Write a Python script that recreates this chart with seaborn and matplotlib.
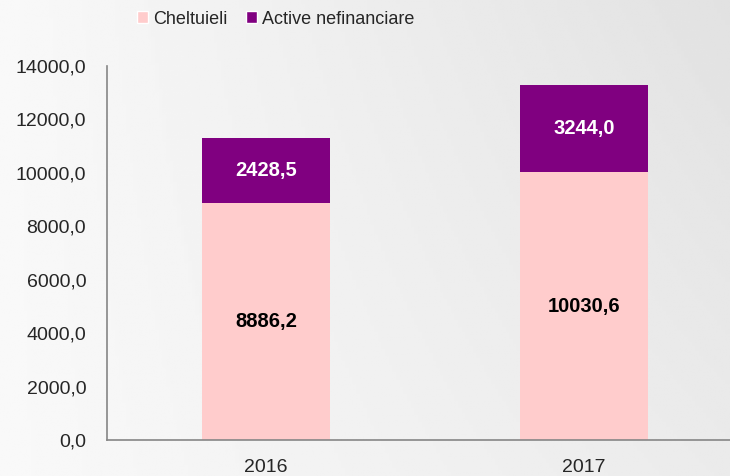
import numpy as np
import matplotlib
matplotlib.use("Agg")
import matplotlib.pyplot as plt
import seaborn as sns
import pandas as pd
from matplotlib.patches import Patch
from matplotlib.ticker import FixedLocator, FuncFormatter

# Data
years = ["2016", "2017"]
cheltuieli = [8886.2, 10030.6]
active_nefinanciare = [2428.5, 3244.0]

PINK = "#FFCCCC"
PURPLE = "#800080"
AXIS_GRAY = "#868686"


def fmt(v):
    return f"{v:.1f}".replace(".", ",")


def main():
    sns.set_style("white")
    plt.rcParams["font.family"] = ["Liberation Sans", "DejaVu Sans"]

    df = pd.DataFrame({
        "year": years,
        "cheltuieli": cheltuieli,
        "active": active_nefinanciare,
    })
    df["total"] = df["cheltuieli"] + df["active"]

    fig = plt.figure(figsize=(7.3, 4.76), dpi=100)

    # light gray gradient background
    bg = fig.add_axes([0, 0, 1, 1], zorder=0)
    gx = np.linspace(0, 1, 200)
    gy = np.linspace(0, 1, 200)
    GX, GY = np.meshgrid(gx, gy)
    shade = 0.975 - 0.09 * GX * (0.6 + 0.4 * (1 - GY))
    bg.imshow(shade, cmap="gray", vmin=0, vmax=1, aspect="auto", extent=[0, 1, 0, 1])
    bg.axis("off")

    ax = fig.add_axes([107 / 730, 36 / 476, 636 / 730, 374 / 476], zorder=1)
    ax.patch.set_alpha(0)

    # stacked bars: total first (purple), expenses drawn over it (pink)
    sns.barplot(data=df, x="year", y="total", color=PURPLE, width=0.4,
                saturation=1, ax=ax, linewidth=0)
    sns.barplot(data=df, x="year", y="cheltuieli", color=PINK, width=0.4,
                saturation=1, ax=ax, linewidth=0)

    for i, row in df.iterrows():
        ax.text(i, row["cheltuieli"] / 2, fmt(row["cheltuieli"]), ha="center",
                va="center", fontsize=14.5, fontweight="bold", color="black")
        ax.text(i, row["cheltuieli"] + row["active"] / 2, fmt(row["active"]),
                ha="center", va="center", fontsize=14.5, fontweight="bold",
                color="white")

    ax.set_xlim(-0.5, 1.5)
    ax.set_ylim(0, 14000)
    ax.set_xlabel("")
    ax.set_ylabel("")

    ax.yaxis.set_major_locator(FixedLocator(np.arange(0, 14001, 2000)))
    ax.yaxis.set_major_formatter(FuncFormatter(lambda v, p: fmt(v)))

    ax.xaxis.set_major_locator(FixedLocator([-0.5, 0.5, 1.5]))
    ax.xaxis.set_major_formatter(FuncFormatter(lambda v, p: ""))
    ax.xaxis.set_minor_locator(FixedLocator([0, 1]))
    ax.xaxis.set_minor_formatter(FuncFormatter(lambda v, p: years[int(round(v))]))
    ax.tick_params(axis="x", which="minor", length=0, labelsize=14, pad=14)
    ax.tick_params(axis="x", which="major", length=5, width=1, color=AXIS_GRAY,
                   direction="out")
    ax.tick_params(axis="y", length=5, width=1, color=AXIS_GRAY,
                   direction="out", labelsize=14, pad=10)

    for side in ["top", "right"]:
        ax.spines[side].set_visible(False)
    for side in ["left", "bottom"]:
        ax.spines[side].set_color(AXIS_GRAY)
        ax.spines[side].set_linewidth(1.2)

    handles = [Patch(facecolor=PINK, label="Cheltuieli"),
               Patch(facecolor=PURPLE, label="Active nefinanciare")]
    fig.legend(handles=handles, loc="upper center",
               bbox_to_anchor=(276 / 730, 1.012), ncol=2, frameon=False,
               fontsize=13, handlelength=0.6, handleheight=0.6,
               handletextpad=0.3, columnspacing=1.0)

    fig.savefig("out.png", dpi=100)
    plt.close(fig)


if __name__ == "__main__":
    main()
